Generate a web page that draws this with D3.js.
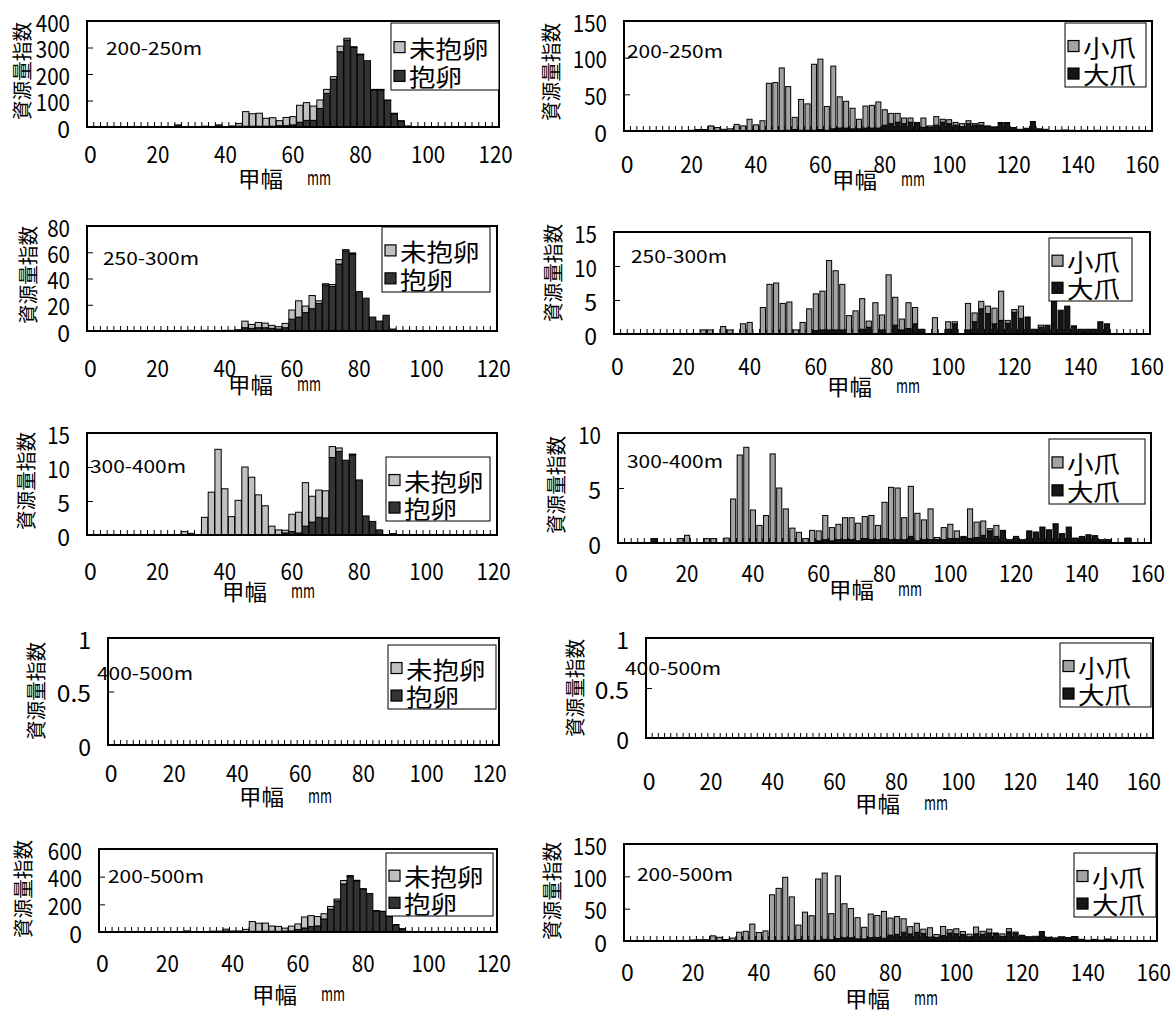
<!DOCTYPE html>
<html><head><meta charset="utf-8">
<script src="https://cdn.jsdelivr.net/npm/d3@7"></script>
<style>
html,body{margin:0;padding:0;background:#fff;}
svg{display:block;}
</style></head><body>
<svg id="chart" width="1174" height="1012"></svg>
<script>
// ---------------- DATA ----------------
const leftBins = [0,2,4,6,8,10,12,14,16,18,20,22,24,26,28,30,32,34,36,38,40,42,44,46,48,50,52,54,56,58,60,62,64,66,68,70,72,74,76,78,80,82,84,86,88,90,92,94,96,98,100,102,104,106,108,110,112,114,116,118,120,122];
const rightBins = [0,2,4,6,8,10,12,14,16,18,20,22,24,26,28,30,32,34,36,38,40,42,44,46,48,50,52,54,56,58,60,62,64,66,68,70,72,74,76,78,80,82,84,86,88,90,92,94,96,98,100,102,104,106,108,110,112,114,116,118,120,122,124,126,128,130,132,134,136,138,140,142,144,146,148,150,152,154,156,158,160,162];
const leftXTicks = [0,20,40,60,80,100,120];
const rightXTicks = [0,20,40,60,80,100,120,140,160];
const leftSeriesNames = ["未抱卵","抱卵"];
const rightSeriesNames = ["小爪","大爪"];
const depthLabels = ["200-250m","250-300m","300-400m","400-500m","200-500m"];
const yAxisTitle = "資源量指数";
const xAxisTitle = "甲幅";
const xAxisUnit = "mm";

// 抱卵 (berried) / 未抱卵 (non-berried), bins of 2 mm from 0
const L1_egg = [0,0,0,0,0,0,0,0,0,0, 0,0,0,8,0,0,0,3,0,8, 0,4,3,3,3,3,3,3,5,5, 8,18,25,25,70,127,180,284,328,300, 273,250,140,140,100,50,22,4,0,0, 0,0,0,0,0,0,0,0,0,0, 0];
const L1_noegg = [0,0,0,0,0,0,0,0,0,0, 0,0,0,0,0,0,0,0,0,0, 0,0,10,55,47,49,30,32,19,31, 31,64,67,54,32,15,10,21,7,3, 2,0,2,2,2,2,2,0,0,0, 0,0,0,0,0,0,0,0,0,0, 0];
const L2_egg = [0,0,0,0,0,0,0,0,0,0, 0,0,0,0,0,0.5,0,0.5,0,0, 0.5,0.5,1,2.5,2,2.5,2.5,2,1.5,2.5, 9,10.6,14,17,21,35,34,51,61,58.7, 30,25,10.6,7.6,12,1.5,0,0.5,0,0, 0,0,0,0,0,0,0,0,0,0, 0];
const L2_noegg = [0,0,0,0,0,0,0,0,0,0, 0,0,0,0,0,0,0,0,0,0, 0,0,0,5,3,4,3.5,2.3,1.8,3.3, 7,12.4,5,10,2,1,1.4,3.4,1,0.8, 0,0,0,0,0,0,0,0,0,0, 0,0,0,0,0,0,0,0,0,0, 0];
const L3_egg = [0,0,0,0,0,0,0,0,0,0, 0,0,0,0,0,0,0,0,0,0, 0,0,0,0,0,0,0,0,0,0.3, 0.5,0.3,1.3,1.9,2.6,2.5,11.4,12.3,11,11.8, 8.1,2.8,2,0.75,0,0.2,0,0,0,0, 0,0,0,0,0,0,0,0,0,0, 0];
const L3_noegg = [0,0,0,0,0,0,0,0,0,0, 0,0,0,0,0.5,0.25,0,2.6,6.3,12.6, 6.8,2.7,5.1,10,8.5,5.9,4.3,1.3,0.75,0.4, 2.55,3.05,6.4,3.8,4,4,1.6,0.5,0,0.1, 0,0,0,0,0,0,0,0,0,0, 0,0,0,0,0,0,0,0,0,0, 0];
const L4_egg = [];
const L4_noegg = [];
const L5_egg = [0,0,0,0,0,0,0,0,0,0, 0,0,0,8,0,0.5,0,3.5,0,8, 0.5,4.5,4,5.5,5,5.5,5.5,5,6.5,8, 18,29,40,44,94,165,225,347,400,370, 311,278,153,148,112,52,22,4.5,0,0, 0,0,0,0,0,0,0,0,0,0, 0];
const L5_noegg = [0,0,0,0,0,0,0,0,0,0, 0,0,0,0,0.5,0.25,0,2.6,6.3,12.6, 6.8,2.7,15,70,58.5,59,37.8,35.6,21.6,34.7, 40.5,79.5,78.4,67.8,38,20,13,25,8,3.9, 2,0,2,2,2,2,2,0,0,0, 0,0,0,0,0,0,0,0,0,0, 0];

// 大爪 (large claw) / 小爪 (small claw), bins of 2 mm from 0
const R1_large = [0,0,0,0,0,0,0,0,0,0, 0,0,0,0,0,0,0,0,0,0, 0,0,0,0,0,1,2,1,1,1, 2,1,3,4,4,3,3,4,4,4, 8,10,12,10,12,10,5,5,8,12, 10,8,6,10,8,8,7,5,11,10, 4.7,2.3,3.7,13,3,2.3,0,1,1.4,1, 0,1,0,1,0,0,0,0,0,0, 0,0];
const R1_small = [0,0,0,0,0,0,0,0,0,0, 1,2,2,7,4.7,2.3,3,9,7,16, 8.4,14,65,66,86,59.6,16.6,42,36,90, 96,32.5,85.5,42.6,36.5,28,13,30,31,35.6, 21,14,12,7.7,5.7,1.7,12.7,2,11.6,4, 5.4,3.7,4,4,2,3.6,0,0.6,0.6,1.6, 0,0,0,0,0,0,0,0,0,0, 0,0,0,0,0,0,0,0,0,0, 0,0];
const R2_large = [0,0,0,0,0,0,0,0,0,0, 0,0,0,0,0,0,0,0,0,0, 0,0,0,0,0,0,0,0,0,0, 0.5,0.6,0.6,0.6,0.6,0,0,0.7,1,0, 0.6,0,1.3,0.6,0.8,1.5,0.7,0,0,0, 0.7,1.5,0,0.6,1.8,3.7,3,1.5,2,1.6, 3.2,2.3,2.5,0.7,1,1.3,4.8,3.5,4.1,1.2, 0.7,0.7,0.7,1.8,1.5,0,0,0,0,0, 0,0];
const R2_small = [0,0,0,0,0,0,0,0,0,0, 0,0,0,0.6,0.6,0,1.1,0.6,0,1.5, 1.7,0,3.9,7.3,7.5,4.5,4.7,0.6,1.7,3.7, 5.4,5.7,10.2,8.7,6.7,2.7,3.4,4.5,0.9,4.6, 2.2,8.7,4.1,1.6,3.8,2.4,0,0,2.4,0, 1.1,0.3,0,3.9,1.3,1.1,1.1,2.3,4.3,0.4, 0.4,1.8,0,0,0.3,0,0,0,0,0, 0,0,0,0,0,0,0,0,0,0, 0,0];
const R3_large = [0,0,0,0,0,0.4,0,0,0,0, 0,0,0,0,0,0,0,0,0,0, 0,0,0,0,0,0,0,0,0,0, 0.2,0.3,0.2,0.3,0.3,0.3,0.2,0.4,0.3,0.3, 0.4,0.3,0.3,0.3,0.6,0.2,0.3,0.3,0.3,0.3, 0.4,0.4,0.5,0.4,0.5,0.7,1.1,0.6,1.15,0.3, 0.6,0.3,1.1,1,1.45,1.2,1.75,0.85,1.45,0.45, 0.6,0.75,0.67,0.3,0.3,0,0,0.45,0,0, 0,0];
const R3_small = [0,0,0,0,0,0,0,0,0,0.4, 0.7,0,0,0.4,0.4,0,0.45,4,8,8.7, 3,1.6,2.5,8.1,5,3.1,1.35,0.97,0.4,1.15, 0.9,2.2,1.2,1.4,2,2,1.6,2,2.2,1.3, 3.3,4.76,4.7,2,4.55,2.5,1.8,2.8,0.2,1.1, 1.3,0.7,0.1,2.7,1.4,1.3,0.2,1,0,0, 0,0,0,0,0,0,0,0,0,0, 0,0,0,0,0,0,0,0,0,0, 0,0];
const R4_large = [];
const R4_small = [];
const R5_large = [0,0,0,0,0,0.4,0,0,0,0, 0,0,0,0,0,0,0,0,0,0, 0,0,0,0,0,1,2,1,1,1, 2.7,1.9,3.8,4.9,4.9,3.3,3.2,5.1,5.3,4.3, 9,10.3,13.6,10.9,13.4,11.7,6,5.3,8.3,12.3, 11.1,9.9,6.5,11,10.3,12.4,11.1,7.1,14.2,11.9, 8.5,4.9,7.3,14.7,5.45,4.8,6.55,5.35,6.95,2.65, 1.3,2.45,1.37,3.1,1.8,0,0,0.45,0,0, 0,0];
const R5_small = [0,0,0,0,0,0,0,0,0,0.4, 1.7,2,2,8,5.7,2.3,4.55,13.6,15,26.2, 13.1,15.6,71.4,81.4,98.5,67.2,22.65,43.6,38.1,94.85, 102.3,40.4,96.9,52.7,45.2,32.7,18,36.5,34.1,41.5, 26.5,27.5,20.8,11.3,14.05,6.6,14.5,4.8,14.2,5.1, 7.8,4.7,4.1,10.6,4.7,6,1.3,3.9,4.9,2, 0.4,1.8,0,0,0.3,0,0,0,0,0, 0,0,0,0,0,0,0,0,0,0, 0,0];

const yTicksL = [[0,100,200,300,400],[0,20,40,60,80],[0,5,10,15],[0,0.5,1],[0,200,400,600]];
const yTicksR = [[0,50,100,150],[0,5,10,15],[0,5,10],[0,0.5,1],[0,50,100,150]];

// ---------------- LAYOUT (positions only) ----------------
const layout = {
  L1:{fx0:87,fx1:499,fy0:21,fy1:127,nb:61,xtY:153,title:[106,47],legend:[391,23,499,90],ytitle:[21,71],xl:[238,177]},
  L2:{fx0:87,fx1:497,fy0:226,fy1:331,nb:61,xtY:367,title:[103,257],legend:[382,227,490,292],ytitle:[27,275],xl:[228,383]},
  L3:{fx0:87,fx1:497,fy0:433,fy1:535,nb:61,xtY:570,title:[90,465],legend:[386,457,490,521],ytitle:[25,481],xl:[222,590]},
  L4:{fx0:108,fx1:499,fy0:638,fy1:745,nb:62,xtY:772,title:[97,672],legend:[388,645,496,709],ytitle:[35,691],xl:[239,795]},
  L5:{fx0:99,fx1:497,fy0:849,fy1:932,nb:61,xtY:962,title:[108,875],legend:[386,853,493,916],ytitle:[22,889],xl:[252,993]},
  R1:{fx0:624,fx1:1152,fy0:21,fy1:131,nb:82,xtY:163,title:[627,50],legend:[1065,23,1146,87],ytitle:[550,72],xl:[832,178]},
  R2:{fx0:614,fx1:1150,fy0:232,fy1:334,nb:81,xtY:365,title:[631,255],legend:[1049,238,1132,301],ytitle:[552,273],xl:[827,385]},
  R3:{fx0:618,fx1:1151,fy0:433,fy1:543,nb:81,xtY:572,title:[627,460],legend:[1049,439,1145,504],ytitle:[555,485],xl:[829,588]},
  R4:{fx0:646,fx1:1153,fy0:638,fy1:738,nb:82,xtY:780,title:[625,667],legend:[1060,643,1151,707],ytitle:[574,688],xl:[855,802]},
  R5:{fx0:624,fx1:1157,fy0:844,fy1:941,nb:81,xtY:971,title:[637,873],legend:[1074,853,1156,917],ytitle:[551,891],xl:[845,997]}
};

const panels = [
  {id:"L1",side:"L",depth:depthLabels[0],lower:L1_egg,upper:L1_noegg,yTicks:yTicksL[0]},
  {id:"L2",side:"L",depth:depthLabels[1],lower:L2_egg,upper:L2_noegg,yTicks:yTicksL[1]},
  {id:"L3",side:"L",depth:depthLabels[2],lower:L3_egg,upper:L3_noegg,yTicks:yTicksL[2]},
  {id:"L4",side:"L",depth:depthLabels[3],lower:L4_egg,upper:L4_noegg,yTicks:yTicksL[3]},
  {id:"L5",side:"L",depth:depthLabels[4],lower:L5_egg,upper:L5_noegg,yTicks:yTicksL[4]},
  {id:"R1",side:"R",depth:depthLabels[0],lower:R1_large,upper:R1_small,yTicks:yTicksR[0]},
  {id:"R2",side:"R",depth:depthLabels[1],lower:R2_large,upper:R2_small,yTicks:yTicksR[1]},
  {id:"R3",side:"R",depth:depthLabels[2],lower:R3_large,upper:R3_small,yTicks:yTicksR[2]},
  {id:"R4",side:"R",depth:depthLabels[3],lower:R4_large,upper:R4_small,yTicks:yTicksR[3]},
  {id:"R5",side:"R",depth:depthLabels[4],lower:R5_large,upper:R5_small,yTicks:yTicksR[4]}
];

// ---------------- STYLE ----------------
const FONT = '"Noto Sans CJK JP","Noto Sans CJK SC",sans-serif';
const colorsL = {upper:"#c0c0c0", lower:"#333333"};
const colorsR = {upper:"#a3a3a3", lower:"#161616"};

const svg = d3.select("#chart");
svg.append("rect").attr("width",1174).attr("height",1012).attr("fill","#fff");

function fit(sel, w){ if (w) sel.attr("textLength", w).attr("lengthAdjust","spacingAndGlyphs"); return sel; }
function numW(s){ return s.length > 1 ? s.length * 11.4 : null; }

panels.forEach(p => {
  const L = layout[p.id];
  const colors = p.side === "L" ? colorsL : colorsR;
  const names = p.side === "L" ? leftSeriesNames : rightSeriesNames;
  const cats = (p.side === "L" ? leftBins : rightBins).slice(0, L.nb);
  const xTicks = p.side === "L" ? leftXTicks : rightXTicks;
  const pad = p.side === "L" ? 0.06 : 0.22;

  const x = d3.scaleBand().domain(cats).range([L.fx0, L.fx1]).paddingInner(pad).paddingOuter(pad/2);
  const y = d3.scaleLinear().domain([0, d3.max(p.yTicks)]).range([L.fy1, L.fy0]);
  const g = svg.append("g");

  // minor ticks along category axis
  const step = x.step();
  g.append("g").selectAll("line").data(cats.slice(1)).join("line")
    .attr("x1", d => x(d) + x.bandwidth()/2 - step/2)
    .attr("x2", d => x(d) + x.bandwidth()/2 - step/2)
    .attr("y1", L.fy1).attr("y2", L.fy1 - 5)
    .attr("stroke", "#000").attr("stroke-width", 1);

  // stacked bars
  const rows = cats.map((c, i) => ({bin: c, lower: p.lower[i] || 0, upper: p.upper[i] || 0}));
  const stacked = d3.stack().keys(["lower","upper"])(rows);
  g.append("g").selectAll("g").data(stacked).join("g")
    .attr("fill", d => colors[d.key])
    .selectAll("rect").data(d => d.filter(e => e[1] - e[0] > 0)).join("rect")
    .attr("x", d => x(d.data.bin))
    .attr("width", x.bandwidth())
    .attr("y", d => y(d[1]))
    .attr("height", d => Math.max(0, y(d[0]) - y(d[1])))
    .attr("stroke", "#000").attr("stroke-width", 1);

  // y axis (ticks inside)
  const ya = d3.axisLeft(y).tickValues(p.yTicks).tickSize(-6).tickPadding(17).tickFormat(d => String(d));
  const yg = g.append("g").attr("transform", `translate(${L.fx0},0)`).call(ya);
  yg.select(".domain").remove();
  yg.selectAll(".tick line").attr("stroke", "#000");
  yg.selectAll(".tick text")
    .attr("font-family", FONT).attr("font-size", 23).attr("fill", "#000")
    .attr("dy", null).attr("dominant-baseline", "central")
    .each(function(d){ fit(d3.select(this), numW(String(d))); });

  // x axis labels
  const xa = d3.axisBottom(x).tickValues(xTicks).tickSize(0).tickPadding(0);
  const xg = g.append("g").attr("transform", `translate(0,${L.fy1})`).call(xa);
  xg.select(".domain").remove();
  xg.selectAll(".tick text")
    .attr("font-family", FONT).attr("font-size", 23).attr("fill", "#000")
    .attr("y", L.xtY - L.fy1).attr("dy", null).attr("dominant-baseline", "central")
    .each(function(d){ fit(d3.select(this), numW(String(d))); });

  // plot frame
  g.append("rect").attr("x", L.fx0).attr("y", L.fy0)
    .attr("width", L.fx1 - L.fx0).attr("height", L.fy1 - L.fy0)
    .attr("fill", "none").attr("stroke", "#000").attr("stroke-width", 2);

  // depth label
  fit(g.append("text").attr("x", L.title[0]).attr("y", L.title[1])
    .attr("dominant-baseline", "central").attr("font-family", FONT).attr("font-size", 18)
    .text(p.depth), 96);

  // legend
  const [lx0, ly0, lx1, ly1] = L.legend;
  const lh = ly1 - ly0;
  g.append("rect").attr("x", lx0).attr("y", ly0).attr("width", lx1 - lx0).attr("height", lh)
    .attr("fill", "#fff").attr("stroke", "#000").attr("stroke-width", 1);
  const items = [{name: names[0], key: "upper"}, {name: names[1], key: "lower"}];
  items.forEach((it, i) => {
    const cy = ly0 + lh * (i === 0 ? 0.36 : 0.79);
    g.append("rect").attr("x", lx0 + 3).attr("y", cy - 5.5).attr("width", 11).attr("height", 11)
      .attr("fill", colors[it.key]).attr("stroke", "#000").attr("stroke-width", 1.2);
    fit(g.append("text").attr("x", lx0 + 18).attr("y", cy)
      .attr("dominant-baseline", "central").attr("font-family", FONT).attr("font-size", 24)
      .text(it.name), it.name.length * 26.5);
  });

  // y axis title (rotated)
  fit(g.append("text").attr("transform", `translate(${L.ytitle[0]},${L.ytitle[1]}) rotate(-90)`)
    .attr("text-anchor", "middle").attr("dominant-baseline", "central")
    .attr("font-family", FONT).attr("font-size", 20).text(yAxisTitle), 98);

  // x axis title
  fit(g.append("text").attr("x", L.xl[0]).attr("y", L.xl[1])
    .attr("dominant-baseline", "central").attr("font-family", FONT).attr("font-size", 22)
    .text(xAxisTitle), 45);
  fit(g.append("text").attr("x", L.xl[0] + 69).attr("y", L.xl[1] + 8)
    .attr("font-family", FONT).attr("font-size", 19).text(xAxisUnit), 24);
});
</script>
</body></html>
